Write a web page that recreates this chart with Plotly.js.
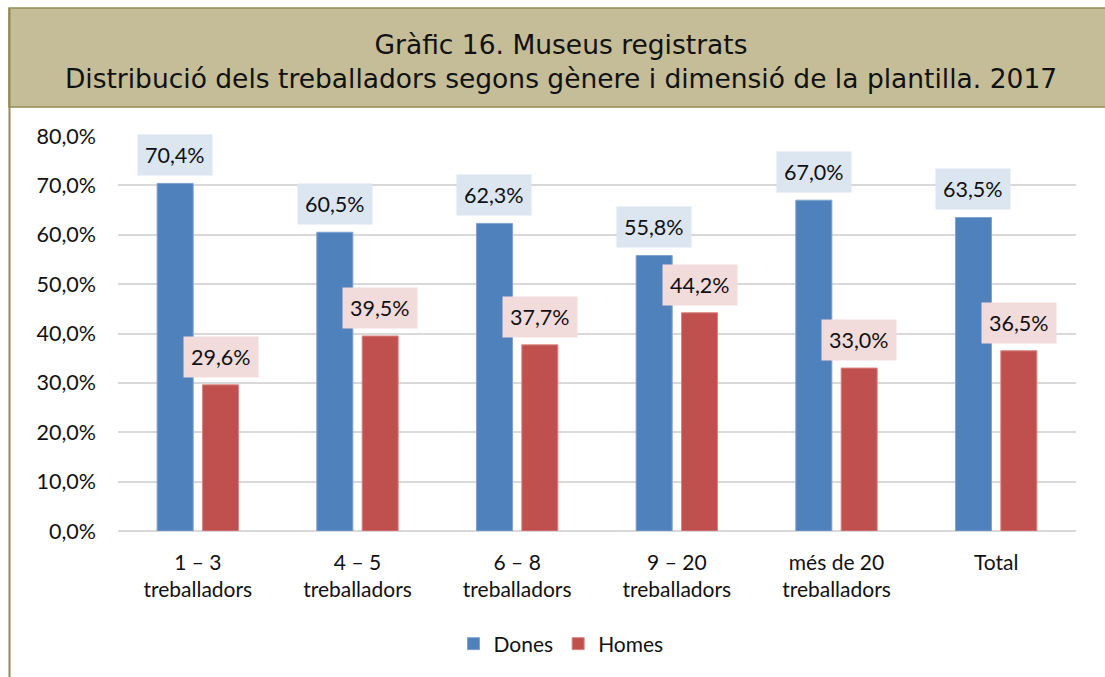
<!DOCTYPE html>
<html>
<head>
<meta charset="utf-8">
<script src="https://cdn.plot.ly/plotly-3.0.1.min.js"></script>
<style>
html,body{margin:0;padding:0;background:#fff;}
#chart{width:1105px;height:677px;}
</style>
</head>
<body>
<div id="chart"></div>
<script>
// ---- Data ----
const categories = ["1 – 3<br>treballadors", "4 – 5<br>treballadors", "6 – 8<br>treballadors", "9 – 20<br>treballadors", "més de 20<br>treballadors", "Total"];
const dones = [70.4, 60.5, 62.3, 55.8, 67.0, 63.5];
const homes = [29.6, 39.5, 37.7, 44.2, 33.0, 36.5];
const seriesNames = ["Dones", "Homes"];
const titleText = "Gràfic 16. Museus registrats<br>Distribució dels treballadors segons gènere i dimensió de la plantilla. 2017";

// ---- Layout constants ----
const W = 1105, H = 677;
const mL = 118, mR = 29, mT = 136, mB = 146;
const plotW = W - mL - mR, plotH = H - mT - mB;
const bargap = 0.432, bargroupgap = 0.205;
const catW = plotW / categories.length;
const slotShift = catW * (1 - bargap) / 4;

const fontFam = "Lato, 'Liberation Sans', sans-serif";
const fmt = v => v.toFixed(1).replace('.', ',') + '%';

// paper-coord helpers for decoration
const px = x => (x - mL) / plotW;
const py = y => (H - mB - y) / plotH;

const traces = [
  {type: 'bar', name: seriesNames[0], x: categories, y: dones,
   marker: {color: '#4F81BD', line: {color: '#7FA2D0', width: 1}}},
  {type: 'bar', name: seriesNames[1], x: categories, y: homes,
   marker: {color: '#C0504D', line: {color: '#D98683', width: 1}}}
];

const annotations = [];
categories.forEach((c, i) => {
  annotations.push({x: c, y: dones[i], xref: 'x', yref: 'y', text: fmt(dones[i]),
    showarrow: false, yanchor: 'bottom', xanchor: 'center', xshift: -slotShift, yshift: 7,
    bgcolor: '#DCE6F1', borderpad: 7, font: {family: fontFam, size: 21.5, color: '#111'}});
  annotations.push({x: c, y: homes[i], xref: 'x', yref: 'y', text: fmt(homes[i]),
    showarrow: false, yanchor: 'bottom', xanchor: 'center', xshift: slotShift, yshift: 7,
    bgcolor: '#F2DCDB', borderpad: 7, font: {family: fontFam, size: 21.5, color: '#111'}});
});

const layout = {
  width: W, height: H,
  margin: {l: mL, r: mR, t: mT, b: mB, pad: 0},
  paper_bgcolor: '#ffffff', plot_bgcolor: '#ffffff',
  separators: ',.',
  barmode: 'group', bargap: bargap, bargroupgap: bargroupgap,
  title: {text: titleText, x: 561 / W, xref: 'container', xanchor: 'center',
          y: 1 - 54 / H, yref: 'container', yanchor: 'middle',
          font: {family: "'DejaVu Sans', Verdana, sans-serif", size: 26.5, color: '#111'}},
  xaxis: {showgrid: false, zeroline: false, showline: false, ticks: '',
          tickfont: {family: fontFam, size: 21, color: '#111'}, ticklabelstandoff: 17},
  yaxis: {range: [0, 80], dtick: 10, tickformat: '.1f', ticksuffix: '%',
          showgrid: true, gridcolor: '#D9D9D9', gridwidth: 2,
          zeroline: true, zerolinecolor: '#D9D9D9', zerolinewidth: 2,
          showline: false, ticks: '', ticklabelstandoff: 21,
          tickfont: {family: fontFam, size: 21.5, color: '#111'}},
  legend: {orientation: 'h', x: px(561), xanchor: 'center', y: py(644), yanchor: 'middle',
           font: {family: fontFam, size: 21, color: '#111'}, itemwidth: 30, traceorder: 'normal'},
  annotations: annotations,
  shapes: [
    {type: 'rect', xref: 'paper', yref: 'paper', layer: 'below',
     x0: px(9), x1: px(1110), y0: py(107), y1: py(8),
     fillcolor: '#C4BD97', line: {color: '#948A54', width: 1.5}},
    {type: 'line', xref: 'paper', yref: 'paper',
     x0: px(9.5), x1: px(9.5), y0: py(8), y1: py(690),
     line: {color: '#948A54', width: 2}}
  ]
};

Plotly.newPlot('chart', traces, layout, {staticPlot: true, displayModeBar: false});
</script>
</body>
</html>
